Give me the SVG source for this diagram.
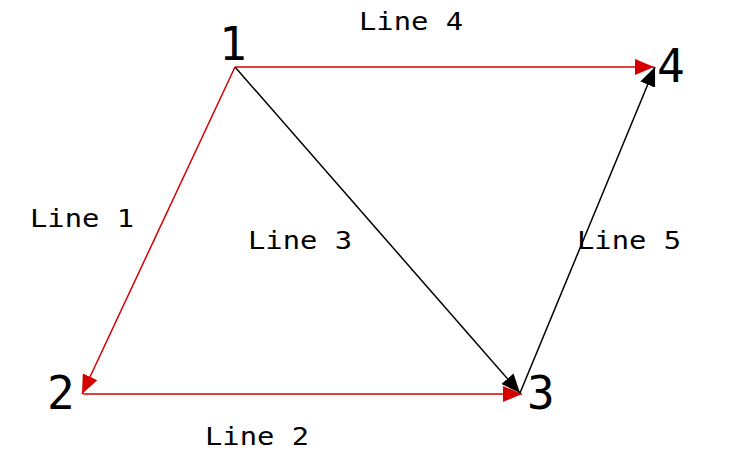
<svg xmlns="http://www.w3.org/2000/svg" width="736" height="468" viewBox="0 0 736 468">
<style>
.lbl{font-family:"DejaVu Sans Mono","Liberation Mono",monospace;font-size:25px;fill:#000}
.num{font-family:"DejaVu Sans Mono","Liberation Mono",monospace;font-size:46px;fill:#000}
.red{stroke:#d40000;stroke-width:1.5;fill:none}
.blk{stroke:#000;stroke-width:1.5;fill:none}
</style>
<defs>
<marker id="ar" markerUnits="userSpaceOnUse" markerWidth="20" markerHeight="16" refX="19" refY="8" orient="auto"><path d="M0,0 L19,8 L0,16 Z" fill="#d40000"/></marker>
<marker id="ab" markerUnits="userSpaceOnUse" markerWidth="20" markerHeight="16" refX="19" refY="8" orient="auto"><path d="M0,0 L19,8 L0,16 Z" fill="#000"/></marker>
</defs>
<rect width="736" height="468" fill="#fff"/>
<g id="connectors">
<line id="line1" class="red" x1="235" y1="67" x2="82" y2="394" marker-end="url(#ar)"/>
<line id="line2" class="red" x1="83" y1="394" x2="522" y2="394" marker-end="url(#ar)"/>
<line id="line3" class="blk" x1="235" y1="67" x2="520" y2="393" marker-end="url(#ab)"/>
<line id="line4" class="red" x1="235" y1="67" x2="654" y2="67" marker-end="url(#ar)"/>
<line id="line5" class="blk" x1="520" y1="393" x2="655" y2="67" marker-end="url(#ab)"/>
</g>
<g id="labels">
<text class="lbl" x="30" y="227" textLength="104" lengthAdjust="spacingAndGlyphs">Line 1</text>
<text class="lbl" x="205" y="445" textLength="104" lengthAdjust="spacingAndGlyphs">Line 2</text>
<text class="lbl" x="248" y="249" textLength="104" lengthAdjust="spacingAndGlyphs">Line 3</text>
<text class="lbl" x="359" y="30" textLength="104" lengthAdjust="spacingAndGlyphs">Line 4</text>
<text class="lbl" x="577" y="249" textLength="104" lengthAdjust="spacingAndGlyphs">Line 5</text>
</g>
<g id="node1"><text class="num" x="219" y="60">1</text></g>
<g id="node2"><text class="num" x="47" y="409">2</text></g>
<g id="node3"><text class="num" x="527" y="409">3</text></g>
<g id="node4"><text class="num" x="657" y="82">4</text></g>
</svg>
